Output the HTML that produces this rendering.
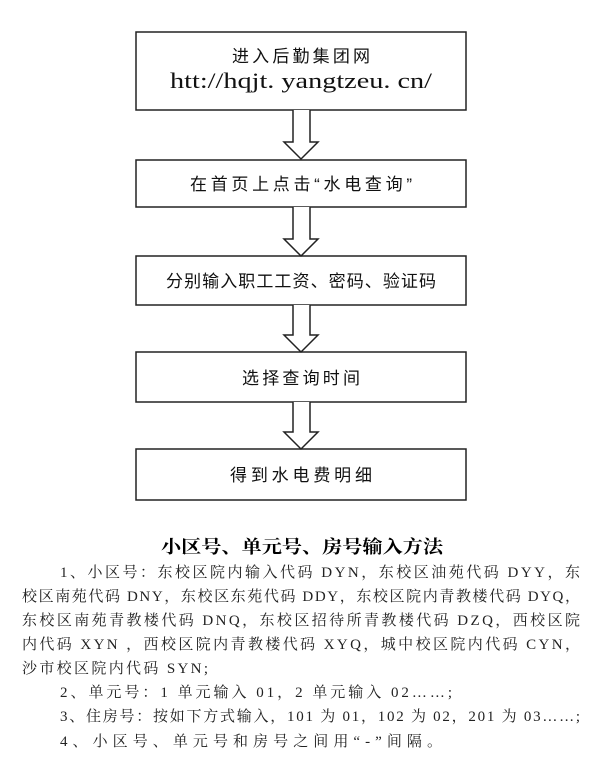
<!DOCTYPE html>
<html><head><meta charset="utf-8"><style>body{margin:0;background:#fff}svg{display:block}</style></head><body>
<svg width="604" height="773" viewBox="0 0 604 773" xmlns="http://www.w3.org/2000/svg">
<g fill="#fff" stroke="#222" stroke-width="1.5">
<rect x="136" y="32" width="330" height="78"/>
<rect x="136" y="160" width="330" height="47"/>
<rect x="136" y="256" width="330" height="49"/>
<rect x="136" y="352" width="330" height="50"/>
<rect x="136" y="449" width="330" height="51"/>
<path d="M293 110 V142 H284 L301 159 L318 142 H310 V110"/>
<path d="M293 207 V239 H284 L301 256 L318 239 H310 V207"/>
<path d="M293 305 V335 H284 L301 352 L318 335 H310 V305"/>
<path d="M293 402 V432 H284 L301 449 L318 432 H310 V402"/>
</g>
<g font-family="'Liberation Sans','Noto Sans CJK SC',sans-serif" font-size="17" fill="#111" text-anchor="middle">
<text x="301" y="62" textLength="138">进入后勤集团网</text>
<text x="301" y="88" font-family="'Liberation Serif',serif" font-size="22" textLength="262" lengthAdjust="spacingAndGlyphs">htt://hqjt. yangtzeu. cn/</text>
<text x="301" y="190" textLength="222">在首页上点击“水电查询”</text>
<text x="301" y="287" textLength="270">分别输入职工工资、密码、验证码</text>
<text x="301" y="384" textLength="118">选择查询时间</text>
<text x="301" y="481" textLength="142">得到水电费明细</text>
</g>
<text x="302" y="553" text-anchor="middle" font-family="'Noto Serif CJK SC',serif" font-weight="bold" font-size="18" textLength="282" lengthAdjust="spacingAndGlyphs">小区号、单元号、房号输入方法</text>
<g font-family="'Liberation Serif','Noto Serif CJK SC',serif" font-size="15" fill="#222" lengthAdjust="spacingAndGlyphs">
<text x="60" y="577" textLength="520">1、小区号：东校区院内输入代码 DYN，东校区油苑代码 DYY，东</text>
<text x="22" y="601" textLength="558">校区南苑代码 DNY，东校区东苑代码 DDY，东校区院内青教楼代码 DYQ，</text>
<text x="22" y="625" textLength="558">东校区南苑青教楼代码 DNQ，东校区招待所青教楼代码 DZQ，西校区院</text>
<text x="22" y="649" textLength="558">内代码 XYN ，西校区院内青教楼代码 XYQ，城中校区院内代码 CYN，</text>
<text x="22" y="673" textLength="186">沙市校区院内代码 SYN;</text>
<text x="60" y="697" textLength="392">2、单元号：1 单元输入 01，2 单元输入 02……;</text>
<text x="60" y="721" textLength="520">3、住房号：按如下方式输入，101 为 01，102 为 02，201 为 03……;</text>
<text x="60" y="746" textLength="382">4、小区号、单元号和房号之间用“-”间隔。</text>
</g>
</svg>
</body></html>
